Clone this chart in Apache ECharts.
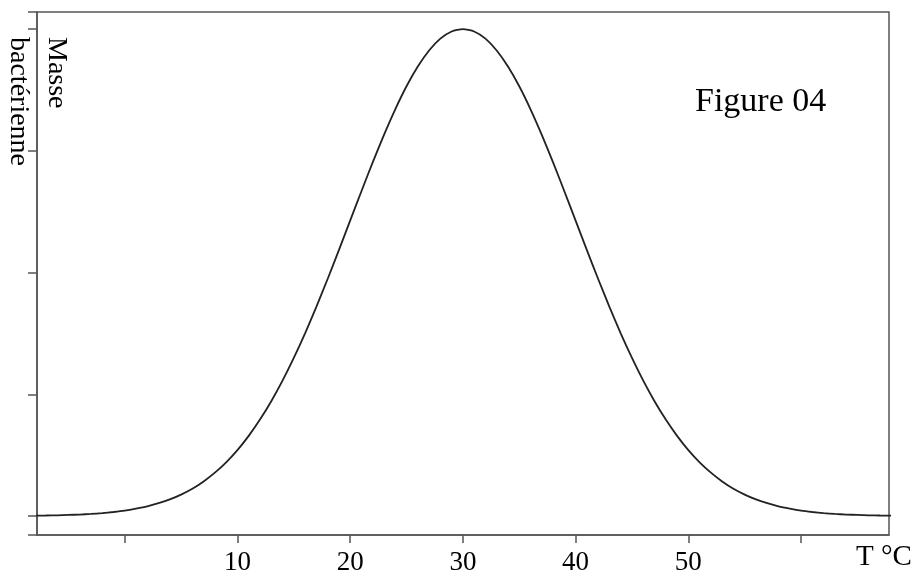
<!DOCTYPE html>
<html>
<head>
<meta charset="utf-8">
<script src="https://cdn.jsdelivr.net/npm/echarts@6/dist/echarts.min.js"></script>
<style>
  html, body { margin: 0; padding: 0; background: #fff; }
  #chart { width: 916px; height: 576px; }
</style>
</head>
<body>
<div id="chart"></div>
<script>
// temperature (°C), one point per degree
const temps = [-8, -7, -6, -5, -4, -3, -2, -1, 0, 1, 2, 3, 4, 5, 6, 7, 8, 9, 10,
  11, 12, 13, 14, 15, 16, 17, 18, 19, 20, 21, 22, 23, 24, 25, 26, 27, 28, 29, 30,
  31, 32, 33, 34, 35, 36, 37, 38, 39, 40, 41, 42, 43, 44, 45, 46, 47, 48, 49, 50,
  51, 52, 53, 54, 55, 56, 57, 58, 59, 60, 61, 62, 63, 64, 65, 66, 67, 68]
// bacterial mass, in tick units (0 = baseline tick, 4 = top tick)
const masse = [0.003, 0.004, 0.006, 0.009, 0.012, 0.017, 0.024, 0.033, 0.044, 0.060,
  0.079, 0.105, 0.136, 0.176, 0.224, 0.284, 0.356, 0.441, 0.541,
  0.658, 0.792, 0.943, 1.112, 1.299, 1.501, 1.718, 1.947, 2.184, 2.426,
  2.668, 2.905, 3.131, 3.341, 3.530, 3.692, 3.824, 3.921, 3.980, 4.0,
  3.980, 3.921, 3.824, 3.692, 3.530, 3.341, 3.131, 2.905, 2.668, 2.426,
  2.184, 1.947, 1.718, 1.501, 1.299, 1.112, 0.943, 0.792, 0.658, 0.541,
  0.441, 0.356, 0.284, 0.224, 0.176, 0.136, 0.105, 0.079, 0.060, 0.044,
  0.033, 0.024, 0.017, 0.012, 0.009, 0.006, 0.004, 0.003]
const xLabels = [10, 20, 30, 40, 50]

const serif = '"Liberation Serif", "DejaVu Serif", serif'
const frame = '#555'

var myChart = echarts.init(document.getElementById('chart'))

myChart.setOption({
  animation: false,
  grid: {
    left: 37, top: 12, right: 27, bottom: 41,
    show: true,
    borderColor: frame,
    borderWidth: 1.5,
    backgroundColor: 'transparent'
  },
  xAxis: {
    type: 'value',
    min: -7.78,
    max: 67.8,
    minInterval: 10,
    maxInterval: 10,
    splitLine: { show: false },
    axisLine: { onZero: false, lineStyle: { color: frame, width: 1.5 } },
    axisTick: { length: 8, lineStyle: { color: frame, width: 1.5 } },
    axisLabel: {
      margin: 14,
      fontFamily: serif,
      fontSize: 27,
      color: '#000',
      showMinLabel: false,
      showMaxLabel: false,
      formatter: v => (xLabels.indexOf(v) >= 0 ? String(v) : '')
    }
  },
  yAxis: {
    type: 'value',
    min: -0.156,
    max: 4.14,
    minInterval: 1,
    maxInterval: 1,
    splitLine: { show: false },
    axisLine: { show: true, onZero: false, lineStyle: { color: frame, width: 1.5 } },
    axisTick: { show: true, length: 9, lineStyle: { color: frame, width: 1.5 } },
    axisLabel: { show: false }
  },
  graphic: [
    {
      type: 'text', x: 56, y: 37, rotation: -Math.PI / 2,
      style: { text: 'Masse', font: '28px ' + serif, fill: '#000', textAlign: 'left', textVerticalAlign: 'middle' }
    },
    {
      type: 'text', x: 18, y: 37, rotation: -Math.PI / 2,
      style: { text: 'bactérienne', font: '28px ' + serif, fill: '#000', textAlign: 'left', textVerticalAlign: 'middle' }
    },
    {
      type: 'text', x: 695, y: 102,
      style: { text: 'Figure 04', font: '34px ' + serif, fill: '#000', textAlign: 'left', textVerticalAlign: 'middle' }
    },
    {
      type: 'text', x: 856, y: 557,
      style: { text: 'T °C', font: '29px ' + serif, fill: '#000', textAlign: 'left', textVerticalAlign: 'middle' }
    }
  ],
  series: [
    {
      type: 'line',
      data: temps.map((t, i) => [t, masse[i]]),
      smooth: 0.2,
      showSymbol: false,
      lineStyle: { color: '#222', width: 1.8 }
    }
  ]
})
</script>
</body>
</html>
